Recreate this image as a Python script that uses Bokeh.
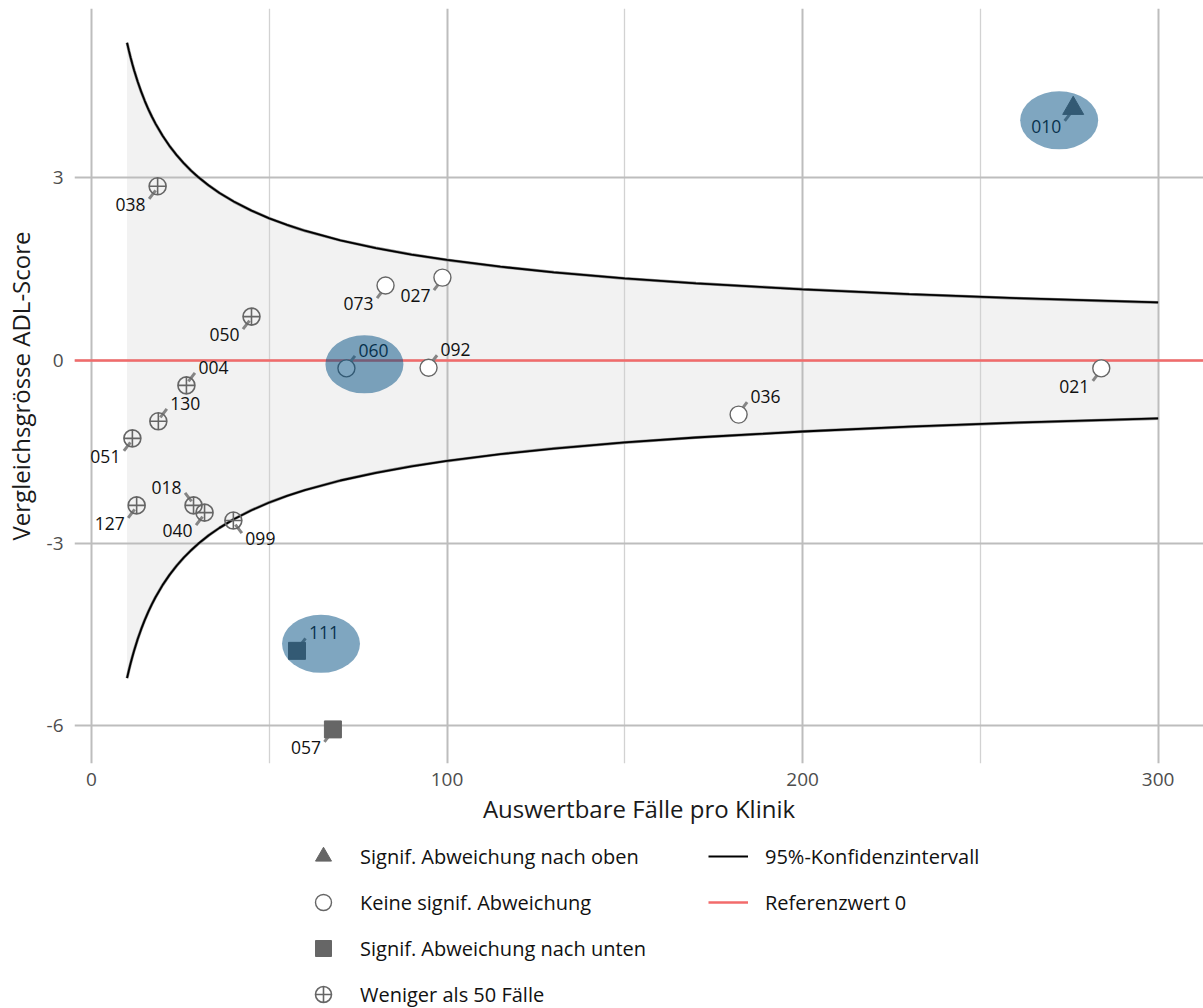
from bokeh.plotting import figure
from bokeh.layouts import column
from bokeh.models import Range1d, FixedTicker, Legend, LegendItem
from bokeh.core.properties import value
from bokeh.embed import file_html
from bokeh.resources import INLINE

FONT = "Open Sans"

# ---------------- data ----------------
klinik = ["038", "050", "004", "130", "051", "127", "018", "040", "099",
          "073", "027", "060", "092", "036", "021", "010", "111", "057"]
faelle = [18.6, 45.0, 26.7, 18.8, 11.5, 12.7, 28.7, 31.8, 39.9,
          82.7, 98.7, 71.7, 94.8, 182.0, 284.0, 276.1, 57.8, 67.9]
score = [2.86, 0.72, -0.41, -1.00, -1.28, -2.38, -2.38, -2.50, -2.63,
         1.23, 1.36, -0.13, -0.12, -0.89, -0.13, 4.14, -4.77, -6.06]
gruppe = ["klein"] * 9 + ["keine"] * 6 + ["oben"] + ["unten"] * 2
label_pos = ["dl", "dl", "ur", "ur", "dl", "dl", "ul", "dl", "dr",
             "dl", "dl", "ur", "ur", "ur", "dl", "dl", "ur", "dl"]
markiert = ["010", "060", "111"]
markiert_offset = [(-14, 12), (18, -4), (24, -7)]   # screen px (right, down)

ci_n = [10, 10.5, 11, 11.5, 12, 13, 14, 15, 16, 17, 18, 20, 22, 24, 26, 28,
        30, 33, 36, 40, 45, 50, 55, 60, 70, 80, 90, 100, 115, 130, 150, 170,
        200, 230, 260, 300]
ci_upper = [5.218, 5.092, 4.975, 4.866, 4.763, 4.576, 4.410, 4.260, 4.125,
            4.002, 3.889, 3.690, 3.518, 3.368, 3.236, 3.118, 3.012, 2.872,
            2.750, 2.609, 2.460, 2.333, 2.225, 2.130, 1.972, 1.845, 1.739,
            1.650, 1.539, 1.447, 1.347, 1.266, 1.167, 1.088, 1.023, 0.953]
ci_lower = [-5.218, -5.092, -4.975, -4.866, -4.763, -4.576, -4.410, -4.260,
            -4.125, -4.002, -3.889, -3.690, -3.518, -3.368, -3.236, -3.118,
            -3.012, -2.872, -2.750, -2.609, -2.460, -2.333, -2.225, -2.130,
            -1.972, -1.845, -1.739, -1.650, -1.539, -1.447, -1.347, -1.266,
            -1.167, -1.088, -1.023, -0.953]
ref_value = 0

x_ticks = [0, 100, 200, 300]
x_minor = [50, 150, 250]
y_ticks = [-6, -3, 0, 3]

legend_labels = {
    "oben": "Signif. Abweichung nach oben",
    "keine": "Keine signif. Abweichung",
    "unten": "Signif. Abweichung nach unten",
    "klein": "Weniger als 50 Fälle",
    "ci": "95%-Konfidenzintervall",
    "ref": "Referenzwert 0",
}

# ---------------- layout ----------------
X_LO, X_HI = -4.78, 312.75
Y_LO, Y_HI = -6.62, 5.78
W, H1, H2 = 1203, 836, 172
BL, BR, BT, BB = 74, 0, 8, 73
FW = W - BL - BR
FH = H1 - BT - BB
SX = FW / (X_HI - X_LO)
SY = FH / (Y_HI - Y_LO)

GRAY = "#666666"
p = figure(width=W, height=H1, output_backend="svg", toolbar_location=None,
           x_range=Range1d(X_LO, X_HI), y_range=Range1d(Y_LO, Y_HI),
           min_border_left=BL, min_border_right=BR, min_border_top=BT,
           min_border_bottom=BB)
p.outline_line_color = None
p.background_fill_color = "white"

# axes
for ax in (p.xaxis[0], p.yaxis[0]):
    ax.axis_line_color = None
    ax.major_tick_line_color = None
    ax.minor_tick_line_color = None
    ax.major_tick_out = 0
    ax.major_tick_in = 0
    ax.minor_tick_out = 0
    ax.minor_tick_in = 0
    ax.major_label_text_font = FONT
    ax.major_label_text_font_size = "19px"
    ax.major_label_text_color = "#4d4d4d"
    ax.axis_label_text_font = FONT
    ax.axis_label_text_font_size = "24px"
    ax.axis_label_text_font_style = "normal"
    ax.axis_label_text_color = "#1a1a1a"
p.xaxis.ticker = FixedTicker(ticks=x_ticks, minor_ticks=x_minor)
p.yaxis.ticker = FixedTicker(ticks=y_ticks)
p.yaxis.major_label_overrides = {t: str(t) for t in y_ticks}
p.xaxis.axis_label = "Auswertbare Fälle pro Klinik"
p.yaxis.axis_label = "Vergleichsgrösse ADL-Score"
p.xaxis.major_label_standoff = 9
p.xaxis.axis_label_standoff = 3
p.yaxis.major_label_standoff = 11
p.yaxis.axis_label_standoff = 7

# grid
p.xgrid.grid_line_color = "#bdbdbd"
p.xgrid.grid_line_width = 2
p.xgrid.minor_grid_line_color = "#d2d2d2"
p.xgrid.minor_grid_line_width = 1.3
p.ygrid.grid_line_color = "#bdbdbd"
p.ygrid.grid_line_width = 2

# confidence band
band = p.varea(x=ci_n, y1=ci_lower, y2=ci_upper, fill_color="#f2f2f2")
band.level = "image"

REF_STYLE = dict(line_color="#f26b6b", line_width=2.5)
CI_STYLE = dict(line_color="black", line_width=1.8)
MARKERS = {
    "oben": dict(marker="triangle", size=21, fill_color=GRAY, line_color=GRAY),
    "keine": dict(marker="circle", size=17, fill_color="white",
                  line_color=GRAY, line_width=1.4),
    "unten": dict(marker="square", size=17, fill_color=GRAY, line_color=GRAY),
    "klein": dict(marker="circle_cross", size=17, fill_color=None,
                  line_color=GRAY, line_width=1.6),
}

# reference line
p.line(x=[X_LO, X_HI], y=[ref_value, ref_value], **REF_STYLE)

# CI curves (with a soft grey shadow)
p.line(x=ci_n, y=ci_upper, line_color="#8a8a8a", line_width=3)
p.line(x=ci_n, y=ci_lower, line_color="#8a8a8a", line_width=3)
p.line(x=ci_n, y=ci_upper, **CI_STYLE)
p.line(x=ci_n, y=ci_lower, **CI_STYLE)


def sub(g):
    idx = [i for i, gg in enumerate(gruppe) if gg == g]
    return [faelle[i] for i in idx], [score[i] for i in idx]


# leaders
lx0, ly0, lx1, ly1 = [], [], [], []
for x, y, d in zip(faelle, score, label_pos):
    hx = 1 if "r" in d else -1
    vy = 1 if "u" in d else -1
    lx0.append(x + hx * 2 / SX)
    ly0.append(y + vy * 4 / SY)
    lx1.append(x + hx * 8.5 / SX)
    ly1.append(y + vy * 12.5 / SY)
p.segment(x0=lx0, y0=ly0, x1=lx1, y1=ly1, line_color="#858585", line_width=3)

# markers
for g in ("oben", "keine", "unten", "klein"):
    gx, gy = sub(g)
    p.scatter(gx, gy, **MARKERS[g])

# labels
for side, align in (("r", "left"), ("l", "right")):
    tx, ty, tt = [], [], []
    for x, y, d, k in zip(faelle, score, label_pos, klinik):
        if side not in d:
            continue
        hx = 1 if side == "r" else -1
        vy = 1 if "u" in d else -1
        tx.append(x + hx * 12 / SX)
        ty.append(y + vy * 18 / SY)
        tt.append(k)
    p.text(x=tx, y=ty, text=tt, text_align=align, text_baseline="middle",
           text_font=value(FONT), text_font_size="17.5px",
           text_color="#111111")

# highlight ellipses
ex, ey = [], []
for k, (ox, oy) in zip(markiert, markiert_offset):
    i = klinik.index(k)
    ex.append(faelle[i] + ox / SX)
    ey.append(score[i] - oy / SY)
p.ellipse(x=ex, y=ey, width=78, height=58, width_units="screen",
          height_units="screen", fill_color="#004e81", fill_alpha=0.5,
          line_color=None)

# ---------------- legend panel ----------------
p2 = figure(width=W, height=H2, output_backend="svg", toolbar_location=None,
            x_axis_type=None, y_axis_type=None,
            x_range=Range1d(-1000, -999), y_range=Range1d(-1000, -999),
            min_border_left=0, min_border_right=0, min_border_top=0,
            min_border_bottom=0)
p2.outline_line_color = None
p2.xgrid.visible = False
p2.ygrid.visible = False

leg_r = {}
for g in ("oben", "keine", "unten", "klein"):
    gx, gy = sub(g)
    leg_r[g] = p2.scatter(gx, gy, **MARKERS[g])
leg_r["ci"] = p2.line(x=ci_n, y=ci_upper, **CI_STYLE)
leg_r["ref"] = p2.line(x=[X_LO, X_HI], y=[ref_value, ref_value], **REF_STYLE)

items = [LegendItem(label=legend_labels[k], renderers=[leg_r[k]])
         for k in ("oben", "keine", "unten", "klein", "ci", "ref")]
legend = Legend(items=items, nrows=4, location=(229, -8),
                padding=0, margin=0, spacing=2, glyph_width=40,
                glyph_height=44, label_height=44, label_standoff=17,
                label_width=346, border_line_color=None,
                background_fill_alpha=0,
                label_text_font=FONT, label_text_font_size="20px",
                label_text_color="#111111")
p2.add_layout(legend, "center")

layout = column(p, p2, spacing=0)
open("out.html", "w").write(file_html(layout, INLINE))
